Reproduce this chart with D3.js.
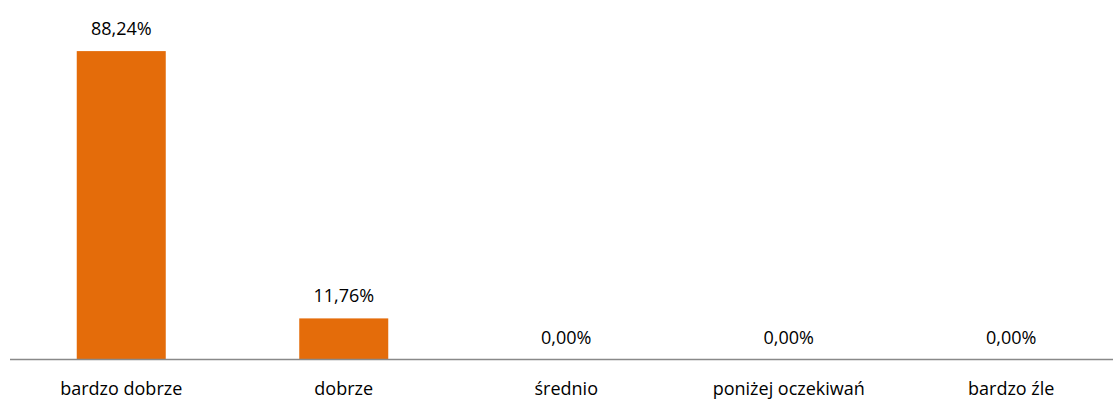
<!DOCTYPE html>
<html>
<head>
<meta charset="utf-8">
<script src="https://cdn.jsdelivr.net/npm/d3@7"></script>
<style>
  html, body { margin: 0; padding: 0; background: #fff; }
  svg { display: block; }
  text { font-family: "Open Sans", "Noto Sans", sans-serif; fill: #000; }
</style>
</head>
<body>
<svg id="chart" width="1113" height="399"></svg>
<script>
// Survey answers and their share of responses (%)
const categories = ["bardzo dobrze", "dobrze", "średnio", "poniżej oczekiwań", "bardzo źle"];
const values = [88.24, 11.76, 0.00, 0.00, 0.00];

const width = 1113, height = 399;
const svg = d3.select("#chart");

const x = d3.scaleBand()
  .domain(categories)
  .range([10, 1122.5])
  .paddingInner(0.6)
  .paddingOuter(0.3);

const y = d3.scaleLinear()
  .domain([0, 100])
  .range([359.5, 10]);

const fmt = v => v.toFixed(2).replace(".", ",") + "%";

// bars
svg.append("g").selectAll("rect")
  .data(values)
  .join("rect")
  .attr("x", (d, i) => x(categories[i]))
  .attr("width", x.bandwidth())
  .attr("y", d => y(d))
  .attr("height", d => y(0) - y(d))
  .attr("fill", "#E46C0A");

// baseline axis
svg.append("line")
  .attr("x1", 10).attr("x2", width)
  .attr("y1", y(0)).attr("y2", y(0))
  .attr("stroke", "#898989")
  .attr("stroke-width", 1.5);

// value labels
svg.append("g").selectAll("text")
  .data(values)
  .join("text")
  .attr("x", (d, i) => x(categories[i]) + x.bandwidth() / 2)
  .attr("y", d => y(d) - 16)
  .attr("text-anchor", "middle")
  .attr("font-size", 18)
  .text(fmt);

// category labels
svg.append("g").selectAll("text")
  .data(categories)
  .join("text")
  .attr("x", d => x(d) + x.bandwidth() / 2)
  .attr("y", 394.5)
  .attr("text-anchor", "middle")
  .attr("font-size", 18)
  .text(d => d);
</script>
</body>
</html>
